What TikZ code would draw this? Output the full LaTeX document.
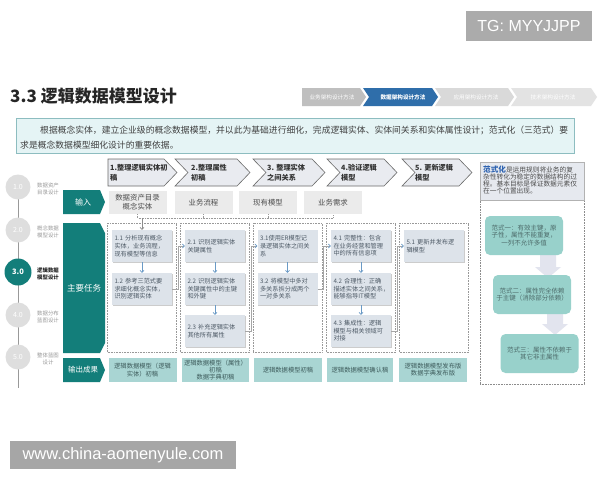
\documentclass[tikz,border=0pt]{standalone}
\usepackage{fontspec}
\setmainfont{Noto Sans CJK SC}
\newfontfamily\wmfont{Liberation Sans}
\usetikzlibrary{arrows.meta,shadows}
\definecolor{tealD}{HTML}{137E7A}
\definecolor{taskC}{HTML}{DDE3EA}
\definecolor{taskT}{HTML}{4E5A66}
\definecolor{inC}{HTML}{EBEBEB}
\definecolor{outC}{HTML}{A9D5D3}
\definecolor{outT}{HTML}{3E5C5C}
\definecolor{stepC}{HTML}{E9EBF0}
\definecolor{stepD}{HTML}{6A6A6A}
\definecolor{descC}{HTML}{E5F4F5}
\definecolor{descD}{HTML}{8DBDC0}
\definecolor{fanC}{HTML}{98D1CB}
\definecolor{fanT}{HTML}{4D6B6A}
\definecolor{arrC}{HTML}{E2E4EE}
\definecolor{blueA}{HTML}{6A9AC6}
\definecolor{crumbB}{HTML}{2F6EAA}
\definecolor{hdrC}{HTML}{E6E9EF}
\definecolor{fanBlue}{HTML}{2D62B0}
\newcommand\myfs[2]{\fontsize{#1}{#2}\selectfont}
% xl, notch, xr, tip, yt, yb, style
\newcommand\mychev[7]{\path[#7] (#1,#5) -- (#3,#5) -- (#4,{(#5+#6)/2}) -- (#3,#6) -- (#1,#6) -- ({#1+#2},{(#5+#6)/2}) -- cycle;}
\begin{document}
\begin{tikzpicture}[x=1pt,y=-1pt,
  tbox/.style={fill=taskC, text=taskT, minimum width=60pt, minimum height=32pt, text width=55pt, inner xsep=2.5pt, inner ysep=1pt, align=left, font=\myfs{6.2}{7.6}, drop shadow={shadow xshift=0.7pt, shadow yshift=-1.1pt, fill=black!20, opacity=1}},
  grp/.style={draw=black!40, densely dotted, line width=0.6pt, minimum width=69pt, minimum height=129pt, inner sep=0pt},
  inbox/.style={fill=inC, text=black!70, minimum width=58pt, minimum height=23pt, align=center, inner sep=1pt, font=\myfs{7.4}{9}},
  outbox/.style={fill=outC, text=outT, minimum height=24pt, align=center, inner sep=1pt, font=\myfs{6.3}{7.2}},
  varr/.style={blueA, line width=0.7pt, -{Straight Barb[length=2pt,width=4pt]}},
  conn/.style={black!35, line width=0.6pt, -{Straight Barb[length=2pt,width=4pt,color=blueA]}},
  busl/.style={black!40, densely dotted, line width=0.6pt},
  circ/.style={circle, fill=black!13, text=white, minimum size=25pt, inner sep=0pt, font=\myfs{7}{8}},
  tl/.style={text=black!40, align=center, font=\myfs{5.4}{7.6}, anchor=west, inner sep=0pt},
  fan/.style={fill=fanC, text=fanT, rounded corners=5pt, minimum width=78pt, minimum height=39pt, align=center, font=\myfs{6.5}{7.8}, inner sep=1pt},
  stepc/.style={fill=stepC, draw=stepD, line width=0.6pt},
  stept/.style={anchor=west, align=left, text=black!80, font=\bfseries\myfs{7.2}{10}, inner sep=0pt},
  crumbt/.style={text=white, font=\myfs{5.6}{6.5}, inner sep=0pt},
  rowl/.style={fill=tealD},
  rowt/.style={text=white, font=\myfs{8}{9.5}, inner sep=0pt}]
\fill[white] (0,0) rectangle (600,480);
\useasboundingbox (0,0) rectangle (600,480);

% watermark boxes
\node[fill=black!33, text=white, minimum width=126pt, minimum height=30pt, inner sep=0pt, font=\wmfont\myfs{16}{18}] (tg) at (529,26) {TG: MYYJJPP};
\node[fill=black!35, text=white, minimum width=226pt, minimum height=28pt, inner sep=0pt, font=\wmfont\myfs{16.5}{18}] (wm) at (123,455) {www.china-aomenyule.com};

% title
\node[anchor=west, inner sep=0pt, font=\bfseries\myfs{17}{20}, text=black!85] (title) at (10,96) {3.3 逻辑数据模型设计};

% breadcrumb
\mychev{302}{0}{360}{366}{88}{106}{fill=black!25}
\mychev{363}{6}{432}{438}{88}{106}{fill=crumbB}
\mychev{435}{6}{508}{514}{88}{106}{fill=black!15}
\mychev{511}{6}{591}{597}{88}{106}{fill=black!11}
\node[crumbt] (bc1) at (332,97) {业务架构设计方法};
\node[crumbt, font=\bfseries\myfs{5.6}{6.5}] (bc2) at (403,97) {数据架构设计方法};
\node[crumbt] (bc3) at (476,97) {应用架构设计方法};
\node[crumbt] (bc4) at (553,97) {技术架构设计方法};

% description
\node[fill=descC, draw=descD, line width=0.8pt, minimum width=558pt, minimum height=35pt, inner sep=0pt] (desc) at (295,136) {};
\node[anchor=west, inner sep=0pt, text=black!75, font=\myfs{8.8}{10}] (d1) at (40,130) {根据概念实体，建立企业级的概念数据模型，并以此为基础进行细化，完成逻辑实体、实体间关系和实体属性设计；范式化（三范式）要};
\node[anchor=west, inner sep=0pt, text=black!75, font=\myfs{8.8}{10}] (d2) at (20,145) {求是概念数据模型细化设计的重要依据。};

% step chevrons
\mychev{108}{0}{164}{177}{159}{186}{stepc}
\mychev{175}{13}{237}{250}{159}{186}{stepc}
\mychev{253}{13}{312}{325}{159}{186}{stepc}
\mychev{327}{13}{384}{397}{159}{186}{stepc}
\mychev{402}{13}{459}{472}{159}{186}{stepc}
\node[stept] (s1) at (110,172.5) {1.整理逻辑实体初\\稿};
\node[stept] (s2) at (191,172.5) {2.整理属性\\初稿};
\node[stept] (s3) at (267,172.5) {3. 整理实体\\之间关系};
\node[stept] (s4) at (341,172.5) {4.验证逻辑\\模型};
\node[stept] (s5) at (415,172.5) {5. 更新逻辑\\模型};

% timeline
\coordinate (tltop) at (18,176);
\coordinate (tlbot) at (18,388);
\draw[black!40, line width=0.7pt] (tltop) -- (tlbot);
\node[circ] (c1) at (18,187) {1.0};
\node[circ] (c2) at (18,230) {2.0};
\node[circ, fill=tealD, minimum size=27pt, font=\bfseries\myfs{7.5}{8}] (c3) at (18,272) {3.0};
\node[circ] (c4) at (18,315) {4.0};
\node[circ] (c5) at (18,357) {5.0};
\node[tl] (l1) at (37,189) {数据资产\\目录设计};
\node[tl] (l2) at (37,232) {概念数据\\模型设计};
\node[tl, text=black!85, font=\bfseries\myfs{5.4}{7.6}] (l3) at (37,274) {逻辑数据\\模型设计};
\node[tl] (l4) at (37,317) {数据分布\\蓝图设计};
\node[tl] (l5) at (37,359) {整体蓝图\\设计};

% row labels
\fill[rowl] (63,190) -- (100,190) -- (105,202) -- (100,214) -- (63,214) -- cycle;
\fill[rowl] (63,223) -- (100,223) -- (105,233) -- (105,343) -- (100,353) -- (63,353) -- cycle;
\fill[rowl] (63,358) -- (100,358) -- (105,370) -- (100,382) -- (63,382) -- cycle;
\node[rowt] (r1) at (83,202) {输入};
\node[rowt, font=\myfs{8.5}{9.5}] (r2) at (84,288) {主要任务};
\node[rowt, font=\myfs{7.5}{9}] (r3) at (83,370) {输出成果};

% inputs
\node[inbox] (i1) at (137.5,202.5) {数据资产目录\\概念实体};
\node[inbox] (i2) at (203.5,202.5) {业务流程};
\node[inbox] (i3) at (268,202.5) {现有模型};
\node[inbox] (i4) at (333,202.5) {业务需求};

% groups
\node[grp] (g1) at (142,287.5) {};
\node[grp] (g2) at (215,287.5) {};
\node[grp] (g3) at (287.5,287.5) {};
\node[grp] (g4) at (361,287.5) {};
\node[grp] (g5) at (434,287.5) {};

% tasks
\node[tbox] (t11) at (142,246) {1.1 分析现有概念\\实体，业务流程，\\现有模型等信息};
\node[tbox] (t12) at (142,289) {1.2 参考三范式要\\求细化概念实体，\\识别逻辑实体};
\node[tbox] (t21) at (215,246) {2.1 识别逻辑实体\\关键属性};
\node[tbox] (t22) at (215,289) {2.2 识别逻辑实体\\关键属性中的主键\\和外键};
\node[tbox] (t23) at (215,331) {2.3 补充逻辑实体\\其他所有属性};
\node[tbox] (t31) at (287.5,246) {3.1使用ER模型记\\录逻辑实体之间关\\系};
\node[tbox] (t32) at (287.5,289) {3.2 将模型中多对\\多关系拆分成两个\\一对多关系};
\node[tbox] (t41) at (361,246) {4.1 完整性：包含\\在业务经营和管理\\中的所有信息项};
\node[tbox] (t42) at (361,289) {4.2 合理性：正确\\描述实体之间关系，\\能够指导IT模型};
\node[tbox] (t43) at (361,331) {4.3 集成性：逻辑\\模型与相关领域可\\对接};
\node[tbox] (t51) at (434,246) {5.1 更新并发布逻\\辑模型};

% input bus
\coordinate (busY) at (0,218);
\draw[busl] (i1.south) -- (i1.south |- busY) -- (i4.south |- busY) -- (i4.south);
\draw[busl] (i2.south) -- (i2.south |- busY);
\draw[busl] (i3.south) -- (i3.south |- busY);
\draw[black!45, line width=0.6pt, -{Straight Barb[length=2pt,width=4pt]}] (t11.north |- busY) -- (t11.north);

% arrows inside groups
\draw[varr] (t11.south) -- (t12.north);
\draw[varr] (t21.south) -- (t22.north);
\draw[varr] (t22.south) -- (t23.north);
\draw[varr] (t31.south) -- (t32.north);
\draw[varr] (t41.south) -- (t42.north);
\draw[varr] (t42.south) -- (t43.north);

% connectors between groups
\draw[conn] (t12.east) -- ++(6.5,0) |- (t21.west);
\draw[conn] (t23.east) -- ++(6,0) |- (t31.west);
\draw[conn] (t32.east) -- ++(6,0) |- (t41.west);
\draw[conn] (t43.east) -- ++(6,0) |- (t51.west);

% outputs
\node[outbox, minimum width=68pt] (o1) at (142.5,370) {逻辑数据模型（逻辑\\实体）初稿};
\node[outbox, minimum width=67pt] (o2) at (215.5,370) {逻辑数据模型（属性）\\初稿\\数据字典初稿};
\node[outbox, minimum width=68pt] (o3) at (288,370) {逻辑数据模型初稿};
\node[outbox, minimum width=66pt] (o4) at (360,370) {逻辑数据模型确认稿};
\node[outbox, minimum width=68pt] (o5) at (433,370) {逻辑数据模型发布版\\数据字典发布版};

% right panel
\node[draw=black!45, densely dotted, line width=0.6pt, minimum width=104pt, minimum height=222pt, inner sep=0pt] (rp) at (532,273) {};
\node[fill=hdrC, draw=black!30, line width=0.5pt, minimum width=104pt, minimum height=38pt, inner sep=0pt] (hdr) at (532,181) {};
\node[anchor=north west, align=left, inner sep=0pt, text=black!70, font=\myfs{6.7}{7}] (hdrt) at (483,165.5) {{\color{fanBlue}\bfseries\myfs{7.6}{7}范式化}是运用规则将业务的复\\杂性转化为稳定的数据结构的过\\程。基本目标是保证数据元素仅\\在一个位置出现。};
\fill[arrC] (540,254) -- (556,254) -- (556,267) -- (561,267) -- (548,278) -- (535,267) -- (540,267) -- cycle;
\fill[arrC] (547,313) -- (563,313) -- (563,324) -- (568,324) -- (555,335) -- (542,324) -- (547,324) -- cycle;
\node[fan] (f1) at (524,235.5) {范式一：有效主键，原\\子性，属性不能重复，\\一列不允许多值};
\node[fan] (f2) at (532,294.5) {范式二：属性完全依赖\\于主键（消除部分依赖）};
\node[fan] (f3) at (539.5,353.5) {范式三：属性不依赖于\\其它非主属性};
\end{tikzpicture}
\end{document}
